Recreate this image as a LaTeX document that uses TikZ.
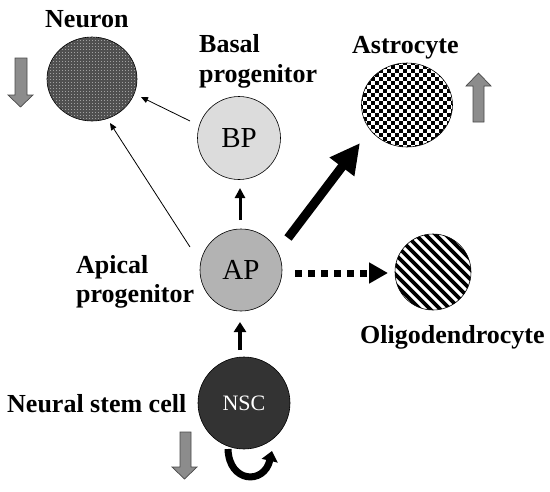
\documentclass[tikz,border=0pt]{standalone}
\usepackage{fontspec}
\setmainfont{Liberation Serif}
\usetikzlibrary{arrows.meta,shapes.geometric,calc}
\definecolor{neurbase}{HTML}{505050}
\definecolor{neurdot}{HTML}{A0A0A0}
\definecolor{bpfill}{HTML}{DCDCDC}
\definecolor{apfill}{HTML}{B3B3B3}
\definecolor{nscfill}{HTML}{333333}
\definecolor{arrgray}{HTML}{8C8C8C}
\definecolor{arrborder}{HTML}{4A4A4A}
\begin{document}
\begin{tikzpicture}[x=1pt,y=-1pt,
  lbl/.style={font=\fontsize{26}{30}\selectfont\bfseries, anchor=base west, inner sep=0pt},
  cell/.style={circle, draw=black, line width=0.6pt, inner sep=0pt},
  oval/.style={ellipse, draw=black, line width=0.6pt, inner sep=0pt},
  thinarr/.style={line width=0.8pt, -{Triangle[length=7pt,width=6pt]}},
  blockarrow/.style={fill=arrgray, draw=arrborder, line width=0.7pt},
]
\useasboundingbox (0,0) rectangle (550,491);
\fill[white] (0,0) rectangle (550,491);

% cells
\node[oval, minimum width=90pt, minimum height=84pt, fill=neurbase,
  path picture={\begin{scope}[shift={(path picture bounding box.center)}]
    \foreach \i in {-48,-45,...,48}{\foreach \j in {-45,-42,...,45}{\fill[neurdot] (\i,\j) rectangle ++(1.3,1.3);}}
  \end{scope}}] (neuron) at (92,79) {};
\node[oval, minimum width=91pt, minimum height=84pt, fill=white,
  path picture={\begin{scope}[shift={(path picture bounding box.center)}]
    \foreach \i in {-48,-40,...,48}{\foreach \j in {-48,-40,...,48}{\fill[black] (\i,\j) rectangle ++(4,4); \fill[black] (\i+4,\j+4) rectangle ++(4,4);}}
  \end{scope}}] (astro) at (407,105) {};
\node[cell, minimum size=76pt, fill=white,
  path picture={\begin{scope}[shift={(path picture bounding box.center)}]
    \foreach \k in {-90,-80,...,90}{\draw[black, line width=3.6pt] (\k-50,-50) -- (\k+50,50);}
  \end{scope}}] (oligo) at (433,272) {};
\node[cell, minimum size=83pt, fill=bpfill, font=\fontsize{29}{30}\selectfont] (bp) at (239,138) {BP};
\node[cell, minimum size=82pt, fill=apfill, font=\fontsize{29}{30}\selectfont] (ap) at (241,270) {AP};
\node[cell, minimum size=92pt, fill=nscfill, text=white, font=\fontsize{22}{24}\selectfont] (nsc) at (244,403) {NSC};

% labels
\node[lbl] (lneuron) at (45,27) {Neuron};
\node[lbl] (lbasal1) at (199,52) {Basal};
\node[lbl] (lbasal2) at (199,82) {progenitor};
\node[lbl] (lastro) at (352,53) {Astrocyte};
\node[lbl] (lapical1) at (76,273) {Apical};
\node[lbl] (lapical2) at (76,302) {progenitor};
\node[lbl] (lnsc) at (7,412) {Neural stem cell};
\node[lbl] (loligo) at (360,343) {Oligodendrocyte};

% connectors
\draw[thinarr] ($(bp)+(-49,-17)$) -- ($(neuron)+(49,18)$);
\draw[thinarr] ($(ap)+(-51,-23)$) -- ($(neuron)+(18,44)$);
\draw[line width=3pt, -{Triangle[length=10pt,width=10pt]}] ($(ap)+(-1,-50)$) -- ($(bp)+(1,50)$);
\draw[line width=4pt, -{Triangle[length=10pt,width=12pt]}] ($(nsc)+(-4,-53)$) -- ($(ap)+(-1,52)$);
\draw[line width=9pt, -{Triangle[length=30pt,width=29pt]}] ($(ap)+(47,-32)$) -- ($(astro)+(-47,38)$);
\draw[line width=7pt, dash pattern=on 7pt off 6pt, -{Triangle[length=19pt,width=20pt]}] ($(ap)+(54,3)$) -- ($(oligo)+(-45,1)$);
\draw[line width=7pt, -{Triangle[length=10pt,width=16pt]}] ($(nsc)+(-16,46)$) .. controls ($(nsc)+(-15,80)$) and ($(nsc)+(20,82)$) .. ($(nsc)+(28,48)$);

% block arrows
\draw[blockarrow] (15,58) -- (27,58) -- (27,95) -- (33,95) -- (20.5,107) -- (8,95) -- (15,95) -- cycle;
\draw[blockarrow] (473,122) -- (484,122) -- (484,86) -- (491,86) -- (478.5,73) -- (466,86) -- (473,86) -- cycle;
\draw[blockarrow] (180,432) -- (191,432) -- (191,467) -- (197,467) -- (184.5,479) -- (172,467) -- (180,467) -- cycle;
\end{tikzpicture}
\end{document}
